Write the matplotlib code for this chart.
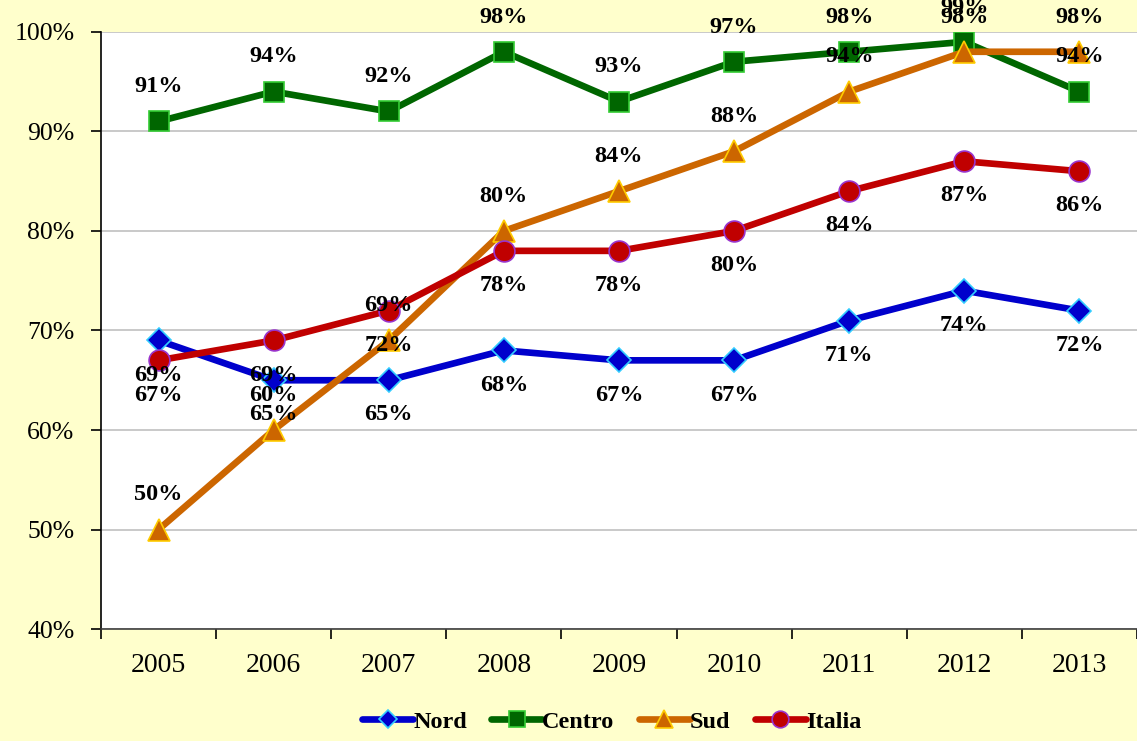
import matplotlib.pyplot as plt
from matplotlib.ticker import FixedLocator, PercentFormatter

# Data
years = ['2005', '2006', '2007', '2008', '2009', '2010', '2011', '2012', '2013']
nord = [69, 65, 65, 68, 67, 67, 71, 74, 72]
centro = [91, 94, 92, 98, 93, 97, 98, 99, 94]
sud = [50, 60, 69, 80, 84, 88, 94, 98, 98]
italia = [67, 69, 72, 78, 78, 80, 84, 87, 86]

plt.rcParams['font.family'] = ['Liberation Serif', 'DejaVu Serif']

bg = '#FFFFCC'
fig = plt.figure(figsize=(11.37, 7.41), dpi=100, facecolor=bg)
ax = fig.add_axes([0.0888, 0.151, 0.9112, 0.806])
ax.set_facecolor('white')

x = list(range(len(years)))

# (name, values, line colour, marker, marker edge, label direction, marker size)
series = [
    ('Nord', nord, '#0000CC', 'D', '#33CCFF', -1, 12),
    ('Centro', centro, '#006600', 's', '#33CC33', 1, 14),
    ('Sud', sud, '#CC6600', '^', '#FFCC00', 1, 16),
    ('Italia', italia, '#C00000', 'o', '#9933CC', -1, 15),
]

for name, vals, col, mk, edge, side, ms in series:
    ax.plot(x, vals, color=col, lw=4.8, marker=mk, markersize=ms,
            markerfacecolor=col, markeredgecolor=edge, markeredgewidth=1.2,
            label=name, zorder=3, solid_capstyle='round')
    for xi, v in zip(x, vals):
        ax.annotate(f'{v}%', (xi, v), xytext=(0, 25 * side),
                    textcoords='offset points', ha='center', va='center',
                    fontsize=17.5, fontweight='bold', annotation_clip=False,
                    zorder=5)

ax.set_ylim(40, 100)
ax.set_xlim(-0.5, len(years) - 0.5)
ax.set_yticks(range(40, 101, 10))
ax.yaxis.set_major_formatter(PercentFormatter(decimals=0))
ax.grid(axis='y', color='#C0C0C0', lw=1.2)
ax.set_axisbelow(True)

ax.set_xticks(x)
ax.set_xticklabels(years)
ax.xaxis.set_minor_locator(FixedLocator([i - 0.5 for i in range(len(years) + 1)]))
ax.tick_params(axis='x', which='major', length=0, pad=17, labelsize=20)
ax.tick_params(axis='x', which='minor', length=7, direction='out', width=1.2)
ax.tick_params(axis='y', length=7, direction='out', width=1.2, labelsize=18.5, pad=12)

for s in ['top', 'right']:
    ax.spines[s].set_visible(False)
ax.spines['left'].set_linewidth(1.2)
ax.spines['bottom'].set_linewidth(1.2)
ax.spines['bottom'].set_color('#404040')

leg = fig.legend(loc='center', bbox_to_anchor=(0.538, 0.026), ncol=4, frameon=False,
                 prop={'weight': 'bold', 'size': 17.5}, handlelength=2.1,
                 handletextpad=0.0, columnspacing=1.0, markerscale=0.8)

fig.savefig('out.png', dpi=100, facecolor=bg)
